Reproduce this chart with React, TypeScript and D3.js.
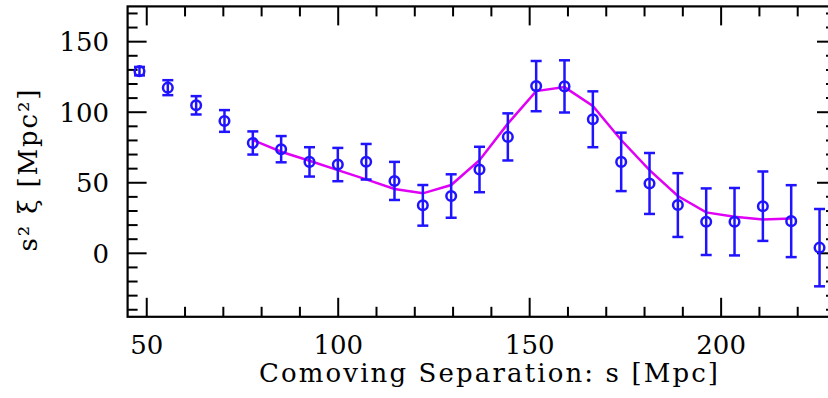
import React from "react";
import * as d3 from "d3";

const separation = [48.1, 55.5, 62.9, 70.3, 77.7, 85.1, 92.5, 99.9, 107.3, 114.7, 122.1, 129.5, 136.9, 144.3, 151.7, 159.1, 166.5, 173.9, 181.3, 188.7, 196.1, 203.5, 210.9, 218.3, 225.7];
const xiValues = [129.1, 117.4, 104.9, 93.8, 78.2, 73.8, 64.8, 62.9, 64.9, 51.3, 34.0, 40.6, 59.4, 82.5, 118.5, 118.3, 95.0, 64.8, 49.5, 34.2, 22.4, 22.4, 33.4, 22.8, 4.0];
const xiErrors = [3.0, 5.3, 6.5, 7.7, 8.2, 9.3, 10.4, 11.8, 12.6, 13.5, 14.4, 15.4, 16.1, 16.7, 17.8, 18.5, 19.8, 20.7, 21.6, 22.6, 23.6, 23.9, 24.6, 25.5, 27.4];

const modelSeparation = [77.7, 85.1, 92.5, 99.9, 107.3, 114.7, 122.1, 129.5, 136.9, 144.3, 151.7, 159.1, 166.5, 173.9, 181.3, 188.7, 196.1, 203.5, 210.9, 218.3];
const modelValues = [80.3, 72.0, 65.6, 59.0, 52.4, 45.6, 42.5, 48.4, 66.0, 91.9, 115.0, 117.8, 104.4, 80.3, 59.0, 40.6, 29.0, 25.9, 24.0, 24.7];

const xMajorTicks = [50, 100, 150, 200];
const yMajorTicks = [0, 50, 100, 150];

const W = 828;
const H = 398;

export default function App() {
  const x = d3.scaleLinear().domain([45, 230]).range([127.6, 836]);
  const y = d3.scaleLinear().domain([-45, 175]).range([316.8, 6.4]);
  const xMinor = d3.range(50, 231, 10);
  const yMinor = d3.range(-40, 175, 10);
  const x0 = x(45), x1 = x(230), yTop = y(175), yBot = y(-45);
  const blue = "#2014ff";
  const magenta = "#e000f5";
  const font = "'DejaVu Serif', serif";

  const line = d3
    .line<number>()
    .x((_, i) => x(modelSeparation[i]))
    .y((d) => y(d));

  return (
    <svg
      width={W}
      height={H}
      style={{ position: "absolute", left: 0, top: 0, background: "#fff" }}
    >
      <rect x={0} y={0} width={W} height={H} fill="#fff" />
      {xMinor.map((v) => {
        const major = xMajorTicks.includes(v);
        const len = major ? 19 : 10;
        return (
          <g key={"xt" + v} stroke="#000" strokeWidth={2}>
            <line x1={x(v)} x2={x(v)} y1={yBot} y2={yBot - len} />
            <line x1={x(v)} x2={x(v)} y1={yTop} y2={yTop + len} />
          </g>
        );
      })}
      {yMinor.map((v) => {
        const major = yMajorTicks.includes(v);
        const len = major ? 19 : 10;
        return (
          <g key={"yt" + v} stroke="#000" strokeWidth={2}>
            <line x1={x0} x2={x0 + len} y1={y(v)} y2={y(v)} />
            <line x1={x1} x2={x1 - len} y1={y(v)} y2={y(v)} />
          </g>
        );
      })}
      <rect
        x={x0}
        y={yTop}
        width={x1 - x0}
        height={yBot - yTop}
        fill="none"
        stroke="#000"
        strokeWidth={2.2}
      />
      {xMajorTicks.map((v) => (
        <text
          key={"xl" + v}
          x={x(v)}
          y={354}
          textAnchor="middle"
          fontFamily={font}
          fontSize={26}
          fill="#000"
        >
          {v}
        </text>
      ))}
      {yMajorTicks.map((v) => (
        <text
          key={"yl" + v}
          x={109}
          y={y(v) + 9.5}
          textAnchor="end"
          fontFamily={font}
          fontSize={26}
          fill="#000"
        >
          {v}
        </text>
      ))}
      <path d={line(modelValues) || ""} fill="none" stroke={magenta} strokeWidth={2.5} />
      {separation.map((s, i) => {
        const cx = x(s);
        const cy = y(xiValues[i]);
        const lo = y(xiValues[i] - xiErrors[i]);
        const hi = y(xiValues[i] + xiErrors[i]);
        return (
          <g key={"p" + i} stroke={blue} strokeWidth={2.5} fill="none">
            <line x1={cx} x2={cx} y1={hi} y2={lo} />
            <line x1={cx - 5.5} x2={cx + 5.5} y1={hi} y2={hi} />
            <line x1={cx - 5.5} x2={cx + 5.5} y1={lo} y2={lo} />
            <circle cx={cx} cy={cy} r={4.8} />
          </g>
        );
      })}
      <text
        x={488.5}
        y={382}
        textAnchor="middle"
        fontFamily={font}
        fontSize={26}
        fill="#000"
        textLength={459}
        lengthAdjust="spacing"
      >
        Comoving Separation: s [Mpc]
      </text>
      <text
        transform="translate(37,170.5) rotate(-90)"
        textAnchor="middle"
        fontFamily={font}
        fontSize={26}
        fill="#000"
        textLength={162}
        lengthAdjust="spacing"
      >
        s² ξ [Mpc²]
      </text>
    </svg>
  );
}
